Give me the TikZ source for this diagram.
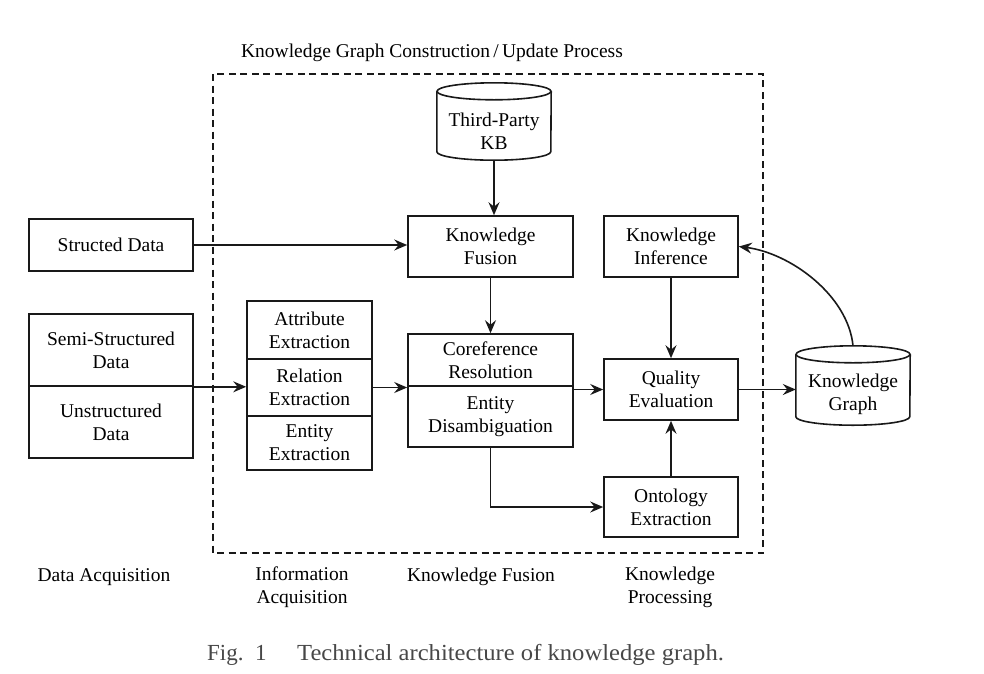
\documentclass[tikz,border=0pt]{standalone}
\usepackage{fontspec}
\setmainfont{Liberation Serif}
\usepackage{graphicx}
\usetikzlibrary{arrows.meta}
\begin{document}
\begin{tikzpicture}[x=1pt,y=-1pt,
  every node/.style={font=\fontsize{19.5}{23}\selectfont, align=center, inner sep=0pt},
  box/.style={draw=black!90, line width=1.6pt},
  ln/.style={draw=black!90, line width=1.6pt},
  arr/.style={draw=black!90, line width=1.6pt, -{Stealth[length=13pt,width=11pt,inset=4.5pt]}},
  frame/.style={draw=black!90, line width=1.4pt, dash pattern=on 7pt off 4.5pt},
  captext/.style={text=black!72, font=\fontsize{23}{27}\selectfont}]
\useasboundingbox (0,0) rectangle (984,673);

% title and frame
\node (title) at (432,53) {Knowledge Graph Construction\,/\,Update Process};
\draw[frame] (213,74) rectangle (763,553);

% data acquisition
\node[box, minimum width=164pt, minimum height=52pt] (sd) at (111,245) {Structed Data};
\node[box, minimum width=164pt, minimum height=72pt] (semi) at (111,350) {Semi-Structured\\Data};
\node[box, minimum width=164pt, minimum height=72pt] (unst) at (111,422) {Unstructured\\Data};

% information acquisition
\node[box, minimum width=125pt, minimum height=58pt] (attr) at (309.5,330) {Attribute\\Extraction};
\node[box, minimum width=125pt, minimum height=57pt] (rel) at (309.5,387.5) {Relation\\Extraction};
\node[box, minimum width=125pt, minimum height=54pt] (ent) at (309.5,443) {Entity\\Extraction};

% knowledge fusion
\node[minimum width=114pt, minimum height=77pt] (kb) at (494,121.5) {};
\node (kbt) at (494,131) {Third-Party\\KB};
\draw[ln] ([yshift=-8.5pt]kb.north west) -- ([yshift=8.5pt]kb.south west)
  arc[start angle=180,end angle=360,x radius=57pt,y radius=8.5pt]
  -- ([yshift=-8.5pt]kb.north east);
\draw[ln] ([yshift=-8.5pt]kb.north) ellipse[x radius=57pt,y radius=8.5pt];

\node[box, minimum width=165pt, minimum height=61pt] (kf) at (490.5,246.5) {Knowledge\\Fusion};
\node[box, minimum width=165pt, minimum height=52pt] (coref) at (490.5,360) {Coreference\\Resolution};
\node[box, minimum width=165pt, minimum height=61pt] (ed) at (490.5,416.5) {Entity\\Disambiguation};

% knowledge processing
\node[box, minimum width=134pt, minimum height=61pt] (ki) at (671,246.5) {Knowledge\\Inference};
\node[box, minimum width=134pt, minimum height=61pt] (qe) at (671,389.5) {Quality\\Evaluation};
\node[box, minimum width=134pt, minimum height=60pt] (oe) at (671,507) {Ontology\\Extraction};

% knowledge graph
\node[minimum width=114pt, minimum height=79pt] (kg) at (853,385.5) {};
\node (kgt) at (853,394) {Knowledge\\Graph};
\draw[ln] ([yshift=-8.5pt]kg.north west) -- ([yshift=8.5pt]kg.south west)
  arc[start angle=180,end angle=360,x radius=57pt,y radius=8.5pt]
  -- ([yshift=-8.5pt]kg.north east);
\draw[ln] ([yshift=-8.5pt]kg.north) ellipse[x radius=57pt,y radius=8.5pt];

% connectors
\draw[arr] (sd.east) -- (sd.east -| kf.west);
\draw[arr] (semi.south east) -- (semi.south east -| rel.west);
\draw[arr] (rel.east) -- (rel.east -| ed.west);
\draw[arr] (kb.south) -- (kb.south |- kf.north);
\draw[arr] (kf.south) -- (coref.north);
\draw[arr] (qe.west -| ed.east) -- (qe.west);
\draw[arr] (ki.south) -- (qe.north);
\draw[arr] (oe.north) -- (qe.south);
\draw[arr] (ed.south) |- (oe.west);
\draw[arr] (qe.east) -- (qe.east -| kg.west);
\draw[arr] (kg.north) .. controls (848,295) and (790,253) .. (ki.east);

% stage labels
\node (l1) at (104,577) {Data Acquisition};
\node (l2) at (302,587.5) {Information\\Acquisition};
\node (l3) at (481,577) {Knowledge Fusion};
\node (l4) at (670,587.5) {Knowledge\\Processing};

% caption
\node[captext, anchor=west] (fig) at (207,655) {Fig.\ \ 1};
\node[captext, anchor=west] (capt) at (297,655) {\scalebox{1.07}[1]{Technical architecture of knowledge graph.}};
\end{tikzpicture}
\end{document}
